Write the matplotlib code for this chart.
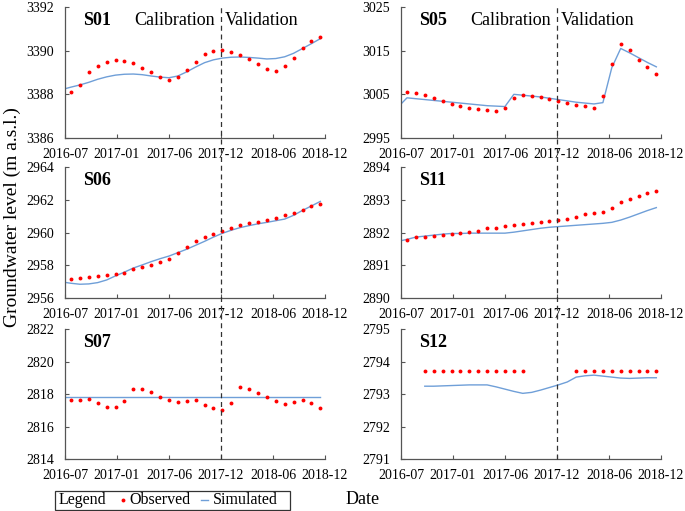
import numpy as np
import matplotlib
matplotlib.use("Agg")
import matplotlib.pyplot as plt
from matplotlib.lines import Line2D
from matplotlib.patches import Rectangle
from matplotlib.transforms import blended_transform_factory

plt.rcParams["font.family"] = ["Liberation Serif", "DejaVu Serif"]

tick_labels = ["2016-07", "2017-01", "2017-06", "2017-12", "2018-06", "2018-12"]

# observed: monthly 2016-08 .. 2018-12 (29 values)
s01_obs = [3388.09, 3388.43, 3389.04, 3389.28, 3389.50, 3389.59, 3389.53, 3389.42, 3389.22, 3389.02,
           3388.79, 3388.66, 3388.78, 3389.13, 3389.50, 3389.83, 3389.98, 3390.02, 3389.92, 3389.79,
           3389.60, 3389.39, 3389.15, 3389.05, 3389.28, 3389.68, 3390.11, 3390.44, 3390.64]
s05_obs = [3005.54, 3005.30, 3004.77, 3004.16, 3003.55, 3002.86, 3002.32, 3001.86, 3001.56, 3001.40,
           3001.17, 3001.86, 3004.16, 3004.77, 3004.62, 3004.31, 3003.93, 3003.39, 3002.93, 3002.48,
           3002.25, 3001.94, 3004.54, 3011.89, 3016.63, 3015.18, 3012.96, 3011.27, 3009.59]
s06_obs = [2957.17, 2957.25, 2957.29, 2957.35, 2957.39, 2957.45, 2957.53, 2957.78, 2957.88, 2958.00,
           2958.19, 2958.39, 2958.72, 2959.09, 2959.46, 2959.70, 2959.91, 2960.11, 2960.25, 2960.44,
           2960.56, 2960.64, 2960.74, 2960.91, 2961.05, 2961.21, 2961.38, 2961.60, 2961.73]
s11_obs = [2891.78, 2891.85, 2891.87, 2891.89, 2891.92, 2891.95, 2891.97, 2892.01, 2892.06, 2892.13,
           2892.15, 2892.19, 2892.22, 2892.25, 2892.28, 2892.32, 2892.35, 2892.39, 2892.42, 2892.46,
           2892.55, 2892.60, 2892.64, 2892.75, 2892.92, 2893.01, 2893.10, 2893.20, 2893.26]
s07_obs = [2817.65, 2817.65, 2817.67, 2817.46, 2817.20, 2817.18, 2817.57, 2818.33, 2818.33, 2818.12,
           2817.84, 2817.63, 2817.48, 2817.57, 2817.63, 2817.34, 2817.11, 2817.03, 2817.46, 2818.45,
           2818.33, 2818.04, 2817.79, 2817.57, 2817.40, 2817.48, 2817.61, 2817.44, 2817.15]
# S12: 2016-10 .. 2018-12, gaps are NaN
s12_obs = [2793.7] * 12 + [np.nan] * 5 + [2793.7] * 10

# simulated: monthly 2016-07 .. 2018-12 (30 values)
s01_sim = [3388.22, 3388.33, 3388.43, 3388.55, 3388.69, 3388.80, 3388.88, 3388.92, 3388.93, 3388.90,
           3388.84, 3388.79, 3388.76, 3388.84, 3389.03, 3389.25, 3389.45, 3389.58, 3389.66, 3389.70,
           3389.71, 3389.69, 3389.66, 3389.62, 3389.64, 3389.72, 3389.88, 3390.10, 3390.32, 3390.55]
s05_sim = [3002.1, 3004.2, 3004.0, 3003.8, 3003.6, 3003.4, 3003.2, 3003.0, 3002.8, 3002.6,
           3002.4, 3002.3, 3002.2, 3005.0, 3004.8, 3004.6, 3004.4, 3004.1, 3003.8, 3003.5,
           3003.2, 3003.0, 3002.8, 3003.1, 3011.1, 3015.5, 3014.5, 3013.4, 3012.3, 3011.3]
s06_sim = [2956.98, 2956.90, 2956.84, 2956.86, 2956.94, 2957.10, 2957.35, 2957.58, 2957.83, 2958.02,
           2958.22, 2958.40, 2958.56, 2958.77, 2958.98, 2959.22, 2959.46, 2959.72, 2959.95, 2960.14,
           2960.30, 2960.42, 2960.53, 2960.62, 2960.72, 2960.82, 2961.05, 2961.35, 2961.62, 2961.90]
s11_sim = [2891.73, 2891.79, 2891.86, 2891.89, 2891.92, 2891.95, 2891.97, 2891.97, 2891.98, 2891.98,
           2891.98, 2891.98, 2891.98, 2892.01, 2892.05, 2892.09, 2892.13, 2892.16, 2892.18, 2892.20,
           2892.22, 2892.24, 2892.26, 2892.28, 2892.31, 2892.38, 2892.47, 2892.57, 2892.67, 2892.76]
s07_sim = [2817.8] * 30
# S12 sim: 2016-10 .. 2018-12
s12_sim = [2793.24, 2793.24, 2793.25, 2793.26, 2793.27, 2793.28, 2793.28, 2793.28, 2793.22, 2793.15,
           2793.08, 2793.02, 2793.05, 2793.12, 2793.20, 2793.28, 2793.37, 2793.52, 2793.56, 2793.58,
           2793.55, 2793.52, 2793.49, 2793.48, 2793.49, 2793.50, 2793.50]

# month index -> x position on the (equally spaced) category axis
def pos(m):
    return 0.69 + 1.0275 * np.asarray(m)

m_obs = np.arange(29)
m_sim = np.arange(-1, 29)
m_s12 = np.arange(2, 29)

panels = [
    ("S01", s01_obs, m_obs, s01_sim, m_sim, (3386, 3392), 2, True),
    ("S05", s05_obs, m_obs, s05_sim, m_sim, (2995, 3025), 10, True),
    ("S06", s06_obs, m_obs, s06_sim, m_sim, (2956, 2964), 2, False),
    ("S11", s11_obs, m_obs, s11_sim, m_sim, (2890, 2894), 1, False),
    ("S07", s07_obs, m_obs, s07_sim, m_sim, (2814, 2822), 2, False),
    ("S12", s12_obs, m_s12, s12_sim, m_s12, (2791, 2795), 1, False),
]

RED = "#ff0000"
BLUE = "#6f9fd8"

W, H = 685, 511
fig = plt.figure(figsize=(W / 100, H / 100), dpi=100)
lefts = [65, 401]
tops = [7, 167, 329]
bottoms = [138, 298, 459]
axes = []
for i, (name, obs, mo, sim, ms, ylim, step, cal) in enumerate(panels):
    r, c = divmod(i, 2)
    ax = fig.add_axes([lefts[c] / W, 1 - bottoms[r] / H, 260 / W, (bottoms[r] - tops[r]) / H])
    ax.plot(pos(ms), sim, color=BLUE, lw=1.0, zorder=2)
    ax.plot(pos(mo), obs, "o", color=RED, ms=2.8, mec="none", zorder=3)
    ax.set_xlim(0, 30)
    ax.set_ylim(*ylim)
    ax.set_xticks(np.arange(0, 31, 6))
    ax.set_xticklabels(tick_labels)
    ax.set_yticks(np.arange(ylim[0], ylim[1] + 0.1, step))
    for s in ["top", "right"]:
        ax.spines[s].set_visible(False)
    for s in ["left", "bottom"]:
        ax.spines[s].set_color("#555555")
        ax.spines[s].set_linewidth(0.9)
    ax.tick_params(direction="in", length=3, width=0.8, color="#555555", labelsize=10)
    ax.tick_params(axis="x", pad=7)
    ax.tick_params(axis="y", pad=8)
    ax.text(0.07, 0.9, name, transform=ax.transAxes, fontsize=13, fontweight="bold", va="center")
    if cal:
        ax.text(0.575, 0.9, "Calibration", transform=ax.transAxes, fontsize=13, ha="right", va="center")
        ax.text(0.613, 0.9, "Validation", transform=ax.transAxes, fontsize=13, ha="left", va="center")
    axes.append(ax)

# dashed calibration / validation split through each column
for c in range(2):
    tr = blended_transform_factory(axes[c].transData, fig.transFigure)
    fig.add_artist(Line2D([18, 18], [1 - 459 / H, 1 - 5 / H], transform=tr,
                          color="#333333", lw=0.9, ls=(0, (4, 3))))

fig.text(0.018, 0.575, "Groundwater level (m a.s.l.)", rotation=90, fontsize=14,
         ha="center", va="center")
fig.text(363 / W, 1 - 500 / H, "Date", fontsize=13, ha="center", va="center")

# legend box drawn by hand: "Legend  • Observed  – Simulated"
ly = 1 - 500 / H
fig.add_artist(Rectangle((55 / W, 1 - 510 / H), 235 / W, 19 / H, transform=fig.transFigure,
                         fill=False, edgecolor="#333333", lw=0.9))
fig.text(59 / W, ly, "Legend", fontsize=11.5, va="center")
fig.add_artist(Line2D([123 / W], [ly], transform=fig.transFigure, ls="none",
                      marker="o", color=RED, ms=2.8, mec="none"))
fig.text(129 / W, ly, "Observed", fontsize=11.5, va="center")
fig.add_artist(Line2D([201 / W, 208 / W], [ly, ly], transform=fig.transFigure, color=BLUE, lw=1.0))
fig.text(213 / W, ly, "Simulated", fontsize=11.5, va="center")

fig.savefig("out.png", dpi=100)
